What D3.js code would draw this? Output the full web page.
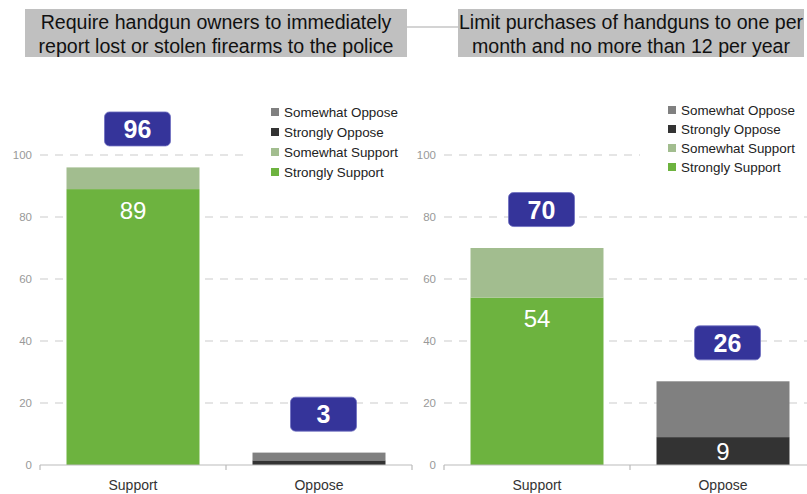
<!DOCTYPE html>
<html>
<head>
<meta charset="utf-8">
<script src="https://cdn.jsdelivr.net/npm/d3@7"></script>
<style>
  body { margin: 0; background: #fff; }
  svg { display: block; font-family: "Liberation Sans", Arial, sans-serif; }
</style>
</head>
<body>
<div id="chart"></div>
<script>
// chart data
var categories  = ['Support', 'Oppose'];
var legendNames = ['Somewhat Oppose', 'Strongly Oppose', 'Somewhat Support', 'Strongly Support'];
var yTicks      = [0, 20, 40, 60, 80, 100];

var reportTitle    = ['Require handgun owners to immediately', 'report lost or stolen firearms to the police'];
var reportStrong   = [89, 1.5];   // strongly support / strongly oppose
var reportSomewhat = [7, 2.5];    // somewhat support / somewhat oppose
var reportTotals   = [96, 3];

var limitTitle    = ['Limit purchases of handguns to one per', 'month and no more than 12 per year'];
var limitStrong   = [54, 9];
var limitSomewhat = [16, 18];
var limitTotals   = [70, 26];

// colours
var COLORS = {
    'Somewhat Oppose'  : '#808080',
    'Strongly Oppose'  : '#333333',
    'Somewhat Support' : '#a2bd8f',
    'Strongly Support' : '#6db33f'
};
var BADGE_FILL = '#35349a';
var GRID_COLOR = '#cccccc';

var W = 807, H = 494;

var svg = d3.select('#chart')
            .append('svg')
            .attr('width', W)
            .attr('height', H);

// line joining the two title boxes
svg.append('line')
    .attr('x1', 407).attr('x2', 458)
    .attr('y1', 27).attr('y2', 27)
    .attr('stroke', '#aaaaaa')
    .attr('stroke-width', 1.2);

var y = d3.scaleLinear().domain([0, 100]).range([465, 155]);

function drawPanel(opt) {
    var g = svg.append('g');

    // title box
    g.append('rect')
        .attr('x', opt.titleBox[0]).attr('y', 9)
        .attr('width', opt.titleBox[1]).attr('height', 48)
        .attr('fill', '#c0c0c0');
    g.selectAll('text.title')
        .data(opt.title)
        .enter()
        .append('text')
        .attr('class', 'title')
        .attr('x', opt.titleBox[0] + opt.titleBox[1] / 2)
        .attr('y', function(d, i) { return 28.5 + i * 24.5; })
        .attr('text-anchor', 'middle')
        .attr('font-size', 19.6)
        .attr('fill', '#111')
        .text(function(d) { return d; });

    var x = d3.scaleBand().domain(categories).range(opt.xRange).padding(0);
    var barW = x.bandwidth() * 0.715;

    // dashed gridlines
    g.selectAll('line.grid')
        .data(yTicks.filter(function(t) { return t > 0; }))
        .enter()
        .append('line')
        .attr('class', 'grid')
        .attr('x1', opt.xRange[0])
        .attr('x2', opt.xRange[1])
        .attr('y1', function(d) { return y(d); })
        .attr('y2', function(d) { return y(d); })
        .attr('stroke', GRID_COLOR)
        .attr('stroke-width', 1.2)
        .attr('stroke-dasharray', '8,7');

    // y tick labels
    g.selectAll('text.ytick')
        .data(yTicks)
        .enter()
        .append('text')
        .attr('class', 'ytick')
        .attr('x', opt.xRange[0] - 8)
        .attr('y', function(d) { return y(d); })
        .attr('dy', '0.35em')
        .attr('text-anchor', 'end')
        .attr('font-size', 11.5)
        .attr('fill', '#999')
        .text(function(d) { return d; });

    // stacked bars: strong segment at the bottom, somewhat on top
    var stacks = categories.map(function(c, i) {
        var strongName = i === 0 ? 'Strongly Support' : 'Strongly Oppose';
        var someName   = i === 0 ? 'Somewhat Support' : 'Somewhat Oppose';
        return [
            { cat : c, y0 : 0, y1 : opt.strong[i], color : COLORS[strongName], label : opt.strong[i] >= 5 ? opt.strong[i] : null },
            { cat : c, y0 : opt.strong[i], y1 : opt.strong[i] + opt.somewhat[i], color : COLORS[someName], label : null }
        ];
    });
    var segs = d3.merge(stacks);

    g.selectAll('rect.seg')
        .data(segs)
        .enter()
        .append('rect')
        .attr('class', 'seg')
        .attr('x', function(d) { return x(d.cat) + (x.bandwidth() - barW) / 2; })
        .attr('y', function(d) { return y(d.y1); })
        .attr('width', barW)
        .attr('height', function(d) { return y(d.y0) - y(d.y1); })
        .attr('fill', function(d) { return d.color; });

    // value inside the strong segment
    g.selectAll('text.seglabel')
        .data(segs.filter(function(d) { return d.label !== null; }))
        .enter()
        .append('text')
        .attr('class', 'seglabel')
        .attr('x', function(d) { return x(d.cat) + x.bandwidth() / 2; })
        .attr('y', function(d) { return Math.min(y(d.y1) + 21, (y(d.y0) + y(d.y1)) / 2); })
        .attr('dy', '0.36em')
        .attr('text-anchor', 'middle')
        .attr('font-size', 24)
        .attr('fill', '#fff')
        .text(function(d) { return d.label; });

    // x axis line and ticks
    g.append('line')
        .attr('x1', opt.xRange[0]).attr('x2', opt.xRange[1])
        .attr('y1', y(0)).attr('y2', y(0))
        .attr('stroke', '#bbb')
        .attr('stroke-width', 1.2);
    var edges = categories.map(function(c) { return x(c); }).concat([opt.xRange[1]]);
    g.selectAll('line.xtick')
        .data(edges)
        .enter()
        .append('line')
        .attr('class', 'xtick')
        .attr('x1', function(d) { return d; })
        .attr('x2', function(d) { return d; })
        .attr('y1', y(0)).attr('y2', y(0) + 5)
        .attr('stroke', '#bbb')
        .attr('stroke-width', 1.2);
    g.selectAll('text.xlabel')
        .data(categories)
        .enter()
        .append('text')
        .attr('class', 'xlabel')
        .attr('x', function(d) { return x(d) + x.bandwidth() / 2; })
        .attr('y', 490)
        .attr('text-anchor', 'middle')
        .attr('font-size', 14)
        .attr('fill', '#333')
        .text(function(d) { return d; });

    // total badges above each bar
    var badges = g.selectAll('g.badge')
        .data(categories)
        .enter()
        .append('g')
        .attr('class', 'badge')
        .attr('transform', function(d, i) {
            var cx = x(d) + x.bandwidth() / 2 + 4.5;
            var cy = y(opt.strong[i] + opt.somewhat[i] + 12.4);
            return 'translate(' + cx + ',' + cy + ')';
        });
    badges.append('rect')
        .attr('x', -33).attr('y', -17)
        .attr('width', 66).attr('height', 34)
        .attr('rx', 5)
        .attr('fill', BADGE_FILL)
        .attr('stroke', '#6f6fc0')
        .attr('stroke-width', 0.8);
    badges.append('text')
        .attr('text-anchor', 'middle')
        .attr('dy', '0.36em')
        .attr('font-size', 25)
        .attr('font-weight', 'bold')
        .attr('fill', '#fff')
        .text(function(d, i) { return opt.totals[i]; });

    // legend on a white backing, covering the top gridline
    g.append('rect')
        .attr('x', opt.legendBg[0]).attr('y', 98)
        .attr('width', opt.legendBg[1]).attr('height', 82)
        .attr('fill', '#fff');
    var leg = g.selectAll('g.leg')
        .data(legendNames)
        .enter()
        .append('g')
        .attr('class', 'leg')
        .attr('transform', function(d, i) {
            return 'translate(' + opt.legendX + ',' + (opt.legendY + i * opt.legendStep) + ')';
        });
    leg.append('rect')
        .attr('x', 0).attr('y', -4)
        .attr('width', 8).attr('height', 8)
        .attr('fill', function(d) { return COLORS[d]; });
    leg.append('text')
        .attr('x', 13)
        .attr('dy', '0.35em')
        .attr('font-size', 13.4)
        .attr('fill', '#222')
        .text(function(d) { return d; });
}

drawPanel({
    title      : reportTitle,
    titleBox   : [25, 382],
    xRange     : [40, 412],
    strong     : reportStrong,
    somewhat   : reportSomewhat,
    totals     : reportTotals,
    legendBg   : [250, 162],
    legendX    : 271,
    legendY    : 112,
    legendStep : 20
});

drawPanel({
    title      : limitTitle,
    titleBox   : [458, 346],
    xRange     : [444, 816],
    strong     : limitStrong,
    somewhat   : limitSomewhat,
    totals     : limitTotals,
    legendBg   : [640, 170],
    legendX    : 668,
    legendY    : 110,
    legendStep : 19
});
</script>
</body>
</html>
